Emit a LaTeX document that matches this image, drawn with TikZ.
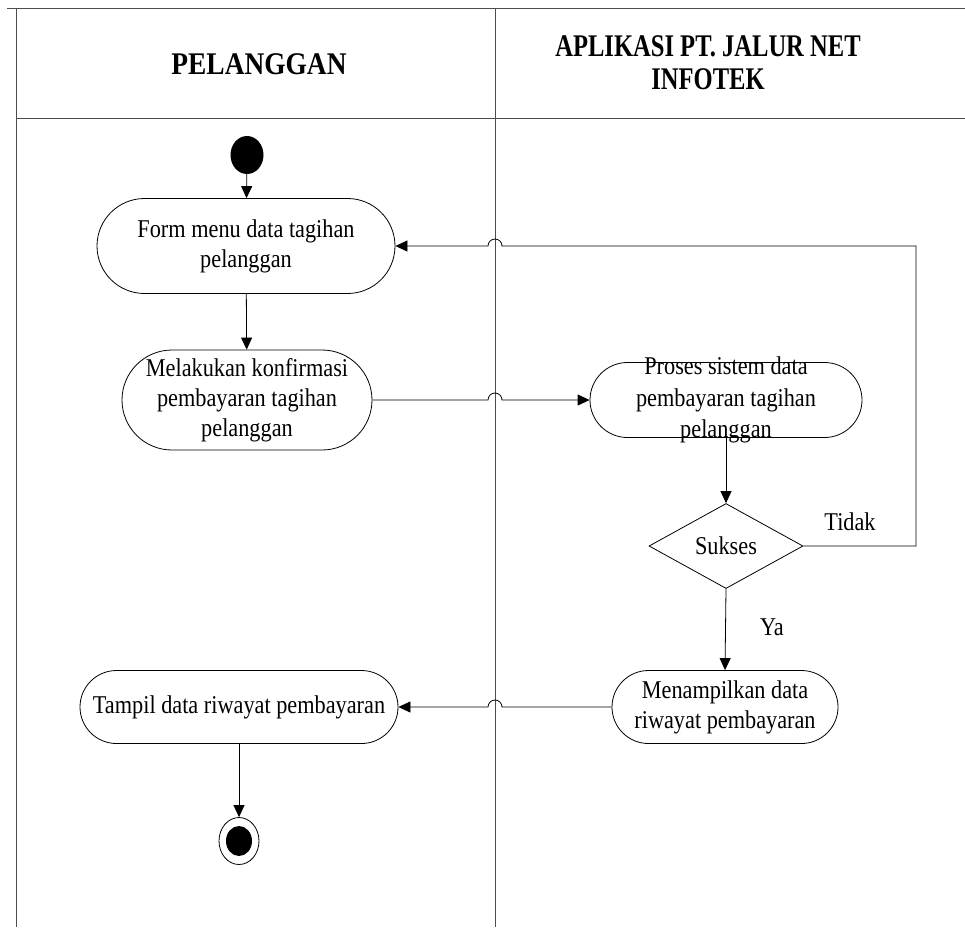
\documentclass[tikz,border=0pt]{standalone}
\usepackage{fontspec}
\setmainfont{Liberation Serif}[FakeStretch=0.87]
\newfontfamily\headfont{Liberation Serif}[FakeStretch=0.78]
\newfontfamily\headfontwide{Liberation Serif}[FakeStretch=0.87]
\usetikzlibrary{shapes.misc,shapes.geometric,arrows.meta}

\begin{document}
\begin{tikzpicture}[x=1pt,y=1pt,
  lane/.style={draw=black!70, line width=1pt},
  act/.style={rounded rectangle, draw, line width=0.8pt, inner sep=0pt},
  lbl/.style={align=center, font=\fontsize{25.6}{30}\selectfont, inner sep=0pt},
  head/.style={align=center, font=\headfont\bfseries\fontsize{31.5}{33}\selectfont, inner sep=0pt},
  flow/.style={line width=0.8pt, -{Triangle[length=12pt,width=11pt]}},
  plain/.style={line width=0.8pt}]

\useasboundingbox (0,0) rectangle (965,-927);

% swimlane frame
\draw[lane] (7,-8) -- (965,-8);
\draw[lane] (16,-8) -- (16,-927);
\draw[lane] (495,-8) -- (495,-927);
\draw[lane] (16,-118) -- (965,-118);

\node[head, font=\headfontwide\bfseries\fontsize{31.5}{33}\selectfont] (h1) at (259,-64) {PELANGGAN};
\node[head] (h2) at (708,-63) {APLIKASI PT. JALUR NET\\INFOTEK};

% activities
\node[ellipse, fill=black, minimum width=33pt, minimum height=38pt, inner sep=0pt] (start) at (247,-155) {};

\node[act, minimum width=298pt, minimum height=95pt] (form) at (246,-246) {};
\node[lbl] (formtxt) at (form) {Form menu data tagihan\\pelanggan};

\node[act, minimum width=250pt, minimum height=100pt] (konf) at (247,-400) {};
\node[lbl] (konftxt) at (konf) {Melakukan konfirmasi\\pembayaran tagihan\\pelanggan};

\node[act, minimum width=272pt, minimum height=75pt] (proses) at (726,-400) {};
\node[lbl, font=\fontsize{25.6}{31.5}\selectfont] (prosestxt) at (proses) {Proses sistem data\\pembayaran tagihan\\pelanggan};

\node[diamond, draw, line width=0.8pt, minimum width=154pt, minimum height=85pt, inner sep=0pt, lbl] (sukses) at (726,-546) {Sukses};

\node[act, minimum width=226pt, minimum height=73pt] (tampilkan) at (725,-707) {};
\node[lbl] (tampilkantxt) at (tampilkan) {Menampilkan data\\riwayat pembayaran};

\node[act, minimum width=318pt, minimum height=73pt] (riwayat) at (239,-707) {};
\node[lbl] (riwayattxt) at (riwayat) {Tampil data riwayat pembayaran};

\node[ellipse, draw, line width=0.8pt, minimum width=40pt, minimum height=47pt, inner sep=0pt] (finish) at (239,-841) {};
\node[ellipse, fill=black, minimum width=26pt, minimum height=30pt, inner sep=0pt] (finishdot) at (finish) {};

% crossing points on the lane divider
\coordinate (jA) at (495,-400);
\coordinate (jB) at (495,-246);
\coordinate (jC) at (495,-707);
\coordinate (corner1) at (916,-546);
\coordinate (corner2) at (916,-246);

% transitions
\draw[flow] (start) -- (form);
\draw[flow] (form) -- (konf);
\draw[flow] (konf.east) -- ([xshift=-7pt]jA) arc[start angle=180, end angle=0, radius=7] -- (proses.west);
\draw[flow] (proses) -- (sukses);
\draw[flow] (sukses.east) -- (corner1) -- (corner2) -- ([xshift=7pt]jB) arc[start angle=0, end angle=180, radius=7] -- (form.east);
\draw[flow] (sukses.south) -- (tampilkan.north);
\draw[flow] (tampilkan.west) -- ([xshift=7pt]jC) arc[start angle=0, end angle=180, radius=7] -- (riwayat.east);
\draw[flow] (riwayat) -- (finish);

\node[lbl] (tidak) at (850,-522) {Tidak};
\node[lbl] (ya) at (772,-627) {Ya};
\end{tikzpicture}
\end{document}
